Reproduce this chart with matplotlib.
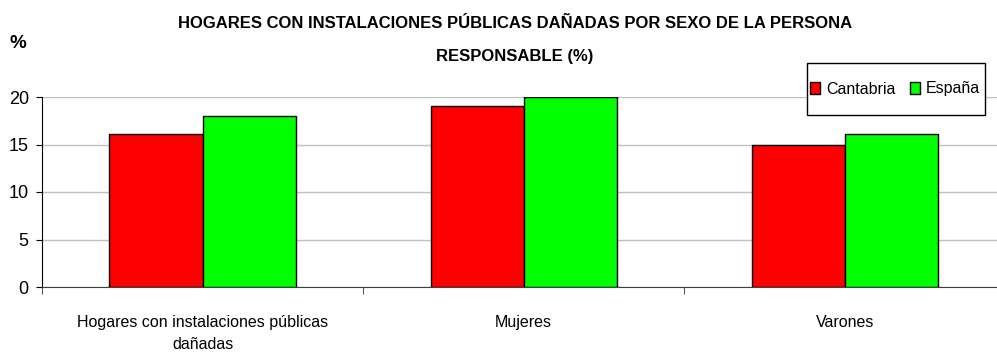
import matplotlib
matplotlib.use("Agg")
import matplotlib.pyplot as plt
from matplotlib.patches import Rectangle
import numpy as np

# data
categorias = ["Hogares con instalaciones públicas\ndañadas", "Mujeres", "Varones"]
cantabria = [16.1, 19.1, 15.0]
espana = [18.0, 20.0, 16.1]
yticks = [0, 5, 10, 15, 20]

plt.rcParams['font.family'] = ['Liberation Sans', 'DejaVu Sans']

W, H = 997, 363
fig = plt.figure(figsize=(W / 100, H / 100), dpi=100)
# plot area runs past the right edge, like the original
ax = fig.add_axes([42 / W, 1 - 287 / H, 963.5 / W, 190 / H])

x = np.arange(len(categorias))
w = 0.29
ax.bar(x - w / 2, cantabria, w, color="#ff0000", edgecolor="black", linewidth=1, label="Cantabria", zorder=3)
ax.bar(x + w / 2, espana, w, color="#00ff00", edgecolor="black", linewidth=1, label="España", zorder=3)

ax.set_xlim(-0.5, 2.5)
ax.set_ylim(0, 20)
ax.set_yticks(yticks)
ax.tick_params(axis="y", labelsize=13, length=4, direction="out", pad=5.5)
ax.yaxis.grid(True, color="#c0c0c0", linewidth=1, zorder=0)

ax.set_xticks([-0.5, 0.5, 1.5, 2.5])
ax.set_xticklabels([])
ax.tick_params(axis="x", length=5, direction="out", color="#555555")
ax.set_xticks(x, minor=True)
ax.set_xticklabels(categorias, minor=True, fontsize=11.5, linespacing=1.6)
ax.tick_params(axis="x", which="minor", length=0, pad=20)

for s in ["top", "right"]:
    ax.spines[s].set_visible(False)
ax.spines["left"].set_color("black")
ax.spines["bottom"].set_color("#404040")

fig.text(515 / W, 1 - 40 / H, "HOGARES CON INSTALACIONES PÚBLICAS DAÑADAS POR SEXO DE LA PERSONA\nRESPONSABLE (%)",
         ha="center", va="center", fontsize=12, fontweight="bold", linespacing=2.5)
fig.text(10 / W, 1 - 44 / H, "%", ha="left", va="center", fontsize=13.5, fontweight="bold")

# legend box
fig.patches.append(Rectangle((807 / W, 1 - 115 / H), 178 / W, 52 / H, transform=fig.transFigure,
                             facecolor="white", edgecolor="black", linewidth=1, zorder=5))
leg = fig.legend(loc="center", bbox_to_anchor=(895 / W, 1 - 89 / H), ncol=2, fontsize=11.5,
                 frameon=False, handlelength=0.65, handleheight=0.8,
                 handletextpad=0.35, columnspacing=0.9, borderpad=0.2)
leg.set_zorder(6)

fig.savefig("out.png", dpi=100)
